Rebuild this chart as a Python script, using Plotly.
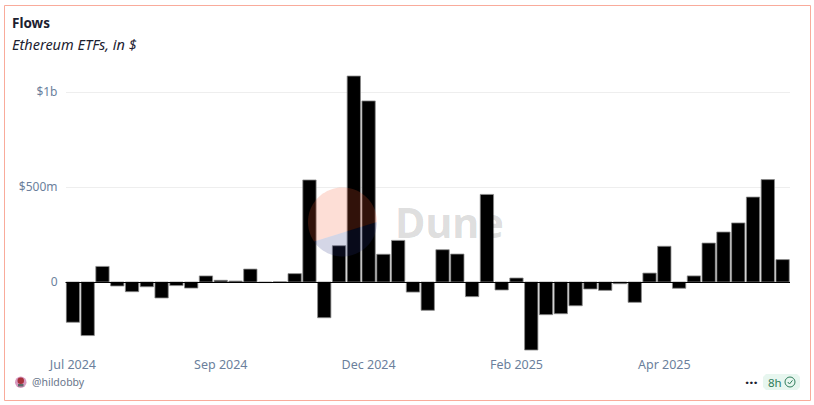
import numpy as np
import pandas as pd
import plotly.graph_objects as go

W, H = 814, 405
weeks = [d.strftime("%Y-%m-%d") for d in pd.date_range("2024-07-22", periods=49, freq="7D")]
flows_musd = [-212, -282, 82, -21, -51, -25, -84, -19, -32, 32, 9, 5, 68, -3, 1, 44, 537, -188, 191, 1084,
              953, 146, 219, -53, -149, 170, 147, -77, 461, -42, 21, -358, -172, -167, -125, -37, -44, -9,
              -107, 47, 188, -33, 32, 205, 263, 311, 447, 539, 118]
flows = [v * 1e6 for v in flows_musd]
x_tick_idx = [0, 10, 20, 30, 40]
x_tick_labels = ["Jul 2024", "Sep 2024", "Dec 2024", "Feb 2025", "Apr 2025"]
y_ticks = [0, 500e6, 1e9]
y_tick_labels = ["0", "$500m", "$1b"]

FONT = "Noto Sans"
TICK = "#6b7f9c"


def px(x):
    return x / W


def py(y):
    return 1 - y / H


def poly(points, close=True):
    return "M" + " L".join(f"{px(a):.5f},{py(b):.5f}" for a, b in points) + (" Z" if close else "")


# plot box in window pixels
PL, PR, PT, PB = 65.5, 790.0, 62.0, 352.0
ZERO, PER_B = 282.0, 190.0
y_max = (ZERO - PT) / PER_B * 1e9
y_min = (ZERO - PB) / PER_B * 1e9

fig = go.Figure(go.Bar(x=weeks, y=flows,
                       marker=dict(color="#000000", line=dict(color="#8a8a8a", width=0.8)),
                       hoverinfo="skip"))

# Dune logo watermark
cx, cy, r = 342.5, 222.0, 34.5
a0 = np.arctan2(241 - cy, 315 - cx)
a1 = np.arctan2(222 - cy, 377 - cx)
top_angles = np.linspace(a0, 2 * np.pi + a1, 60)
top_pts = [(cx + r * np.cos(t), cy + r * np.sin(t)) for t in top_angles]
bot_angles = np.linspace(a1, a0, 40)
bot_pts = [(cx + r * np.cos(t), cy + r * np.sin(t)) for t in bot_angles]

shapes = [
    dict(type="line", xref="paper", yref="paper", x0=px(PL), x1=px(PR), y0=py(ZERO + .5), y1=py(ZERO + .5),
         line=dict(color="#000000", width=1), layer="above"),
    dict(type="path", xref="paper", yref="paper", path=poly(top_pts), line=dict(width=0),
         fillcolor="rgba(245,90,50,0.2)", layer="above"),
    dict(type="path", xref="paper", yref="paper", path=poly(bot_pts), line=dict(width=0),
         fillcolor="rgba(40,50,130,0.2)", layer="above"),
    # card frame
    dict(type="rect", xref="paper", yref="paper", x0=px(4.5), x1=px(810.5), y0=py(5.5), y1=py(400.5),
         line=dict(color="#f9ab9b", width=1), layer="above"),
    # avatar
    dict(type="circle", xref="paper", yref="paper", x0=px(15), x1=px(26.5), y0=py(376.5), y1=py(388),
         line=dict(width=0), fillcolor="#d89ac0", layer="above"),
    dict(type="circle", xref="paper", yref="paper", x0=px(17.5), x1=px(24), y0=py(377.5), y1=py(384),
         line=dict(width=0), fillcolor="#a8323c", layer="above"),
    dict(type="rect", xref="paper", yref="paper", x0=px(18), x1=px(23.5), y0=py(384), y1=py(386.5),
         line=dict(width=0), fillcolor="#5c6a6a", layer="above"),
    # freshness badge
    dict(type="path", xref="paper", yref="paper",
         path=poly([(766, 374), (797, 374), (800, 377), (800, 387), (797, 390), (766, 390), (763, 387), (763, 377)]),
         line=dict(width=0), fillcolor="#e7f6ef", layer="below"),
    dict(type="circle", xref="paper", yref="paper", x0=px(785), x1=px(795), y0=py(377), y1=py(387),
         line=dict(color="#2f7d5b", width=1), fillcolor="rgba(0,0,0,0)", layer="above"),
    dict(type="path", xref="paper", yref="paper",
         path=poly([(787.8, 382), (789.5, 384), (792.5, 380.3)], close=False),
         line=dict(color="#2f7d5b", width=1), layer="above"),
]


def note(x, y, text, size, color, anchor="left", **font):
    return dict(xref="paper", yref="paper", x=px(x), y=py(y), text=text, showarrow=False, xanchor=anchor,
                yanchor="middle", font=dict(family=FONT, size=size, color=color, **font), align=anchor)


annotations = [
    note(9.5, 23, "<b>Flows</b>", 13.5, "#1c2130"),
    note(10, 44, "<i>Ethereum ETFs, in $</i>", 14.5, "#1c2130"),
    note(392.5, 222, "<b>Dune</b>", 41.5, "rgba(0,0,0,0.15)"),
    note(29.5, 382, "@hildobby", 10.5, "#68758a"),
    note(751, 381.5, "<b>···</b>", 15, "#1c2130", anchor="center"),
    note(766, 382, "8h", 11.5, "#2f7d5b"),
]

fig.update_layout(
    width=W, height=H, autosize=False,
    margin=dict(l=0, r=0, t=0, b=0, pad=0),
    paper_bgcolor="#ffffff", plot_bgcolor="#ffffff",
    showlegend=False, bargap=0.1,
    font=dict(family=FONT),
    shapes=shapes, annotations=annotations,
    xaxis=dict(type="category", domain=[px(PL), px(PR)], range=[-0.5, 48.5], showgrid=False, zeroline=False,
               showline=False, ticks="", anchor="y", tickmode="array",
               tickvals=[weeks[i] for i in x_tick_idx], ticktext=x_tick_labels, tickangle=0,
               tickfont=dict(family=FONT, size=12.5, color=TICK), ticklabelstandoff=3, automargin=False),
    yaxis=dict(domain=[py(PB), py(PT)], range=[y_min, y_max], tickmode="array", tickvals=y_ticks,
               ticktext=y_tick_labels, showgrid=True, gridcolor="#eeeeee", gridwidth=1, zeroline=False,
               showline=False, ticks="", tickfont=dict(family=FONT, size=12, color=TICK),
               ticklabelstandoff=7, automargin=False),
)

fig.write_html("out.html", config={"displayModeBar": False},
               post_script="document.body.style.margin='0';document.documentElement.style.overflow='hidden';")
